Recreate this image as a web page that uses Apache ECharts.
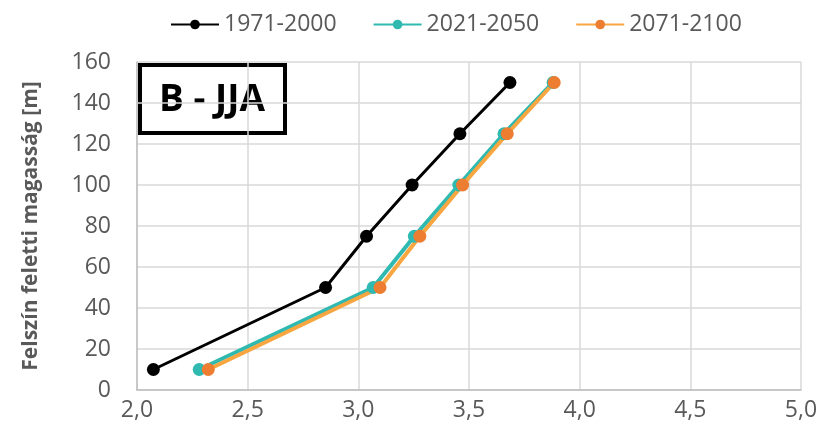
<!DOCTYPE html>
<html>
<head>
<meta charset="utf-8">
<script src="https://cdn.jsdelivr.net/npm/echarts@6/dist/echarts.min.js"></script>
<style>
  html, body { margin: 0; padding: 0; background: #fff; }
  #chart { width: 823px; height: 438px; }
</style>
</head>
<body>
<div id="chart"></div>
<script>
// Heights above ground (m)
const heights = [10, 50, 75, 100, 125, 150];
// Values per period at each height
const period1971 = [2.074, 2.852, 3.037, 3.243, 3.459, 3.685];
const period2021 = [2.281, 3.067, 3.253, 3.454, 3.658, 3.880];
const period2071 = [2.322, 3.098, 3.278, 3.471, 3.673, 3.885];
const seriesNames = ['1971-2000', '2021-2050', '2071-2100'];
const panelLabel = 'B - JJA';
const yAxisTitle = 'Felszín feletti magasság [m]';

const pairs = vals => vals.map((v, i) => [v, heights[i]]);
const font = 'Open Sans';
const labelColor = '#595959';

const chart = echarts.init(document.getElementById('chart'));
chart.setOption({
  animation: false,
  textStyle: { fontFamily: font },
  grid: { left: 137, right: 22, top: 62, bottom: 48 },
  legend: {
    top: 8,
    left: 165,
    itemWidth: 48,
    itemHeight: 12,
    itemGap: 36,
    textStyle: { fontSize: 23, color: labelColor, fontFamily: font },
    data: seriesNames
  },
  xAxis: {
    type: 'value',
    min: 2.0, max: 5.0, interval: 0.5,
    axisLine: { show: true, lineStyle: { color: '#bfbfbf', width: 1.5 } },
    axisTick: { show: false },
    splitLine: { lineStyle: { color: '#d9d9d9', width: 1.5 } },
    axisLabel: {
      color: labelColor, fontSize: 23, margin: 9,
      formatter: v => v.toFixed(1).replace('.', ',')
    }
  },
  yAxis: {
    type: 'value',
    min: 0, max: 160, interval: 20,
    name: yAxisTitle,
    nameLocation: 'middle',
    nameGap: 95,
    nameTextStyle: { fontSize: 21, fontWeight: 'bold', color: labelColor, fontFamily: font },
    axisLine: { show: true, lineStyle: { color: '#bfbfbf', width: 1.5 } },
    axisTick: { show: false },
    splitLine: { lineStyle: { color: '#d9d9d9', width: 1.5 } },
    axisLabel: { color: labelColor, fontSize: 23, margin: 26 }
  },
  graphic: [{
    type: 'group',
    left: 138,
    top: 63,
    children: [
      { type: 'rect', shape: { x: 2, y: 2, width: 145, height: 68 },
        style: { fill: '#fff', stroke: '#000', lineWidth: 4 } },
      { type: 'text', x: 74, y: 37,
        style: { text: panelLabel, fill: '#000', font: 'bold 37px "Open Sans"',
                 align: 'center', verticalAlign: 'middle' } }
    ]
  }],
  series: [
    {
      name: seriesNames[0], type: 'line', data: pairs(period1971),
      symbol: 'circle', symbolSize: 13,
      lineStyle: { color: '#000', width: 3 },
      itemStyle: { color: '#000' }
    },
    {
      name: seriesNames[1], type: 'line', data: pairs(period2021),
      symbol: 'circle', symbolSize: 13,
      lineStyle: { color: '#2fb9b1', width: 4 },
      itemStyle: { color: '#2fb9b1' }
    },
    {
      name: seriesNames[2], type: 'line', data: pairs(period2071),
      symbol: 'circle', symbolSize: 13,
      lineStyle: { color: '#f7a640', width: 4 },
      itemStyle: { color: '#ed7d31' }
    }
  ]
});
</script>
</body>
</html>
